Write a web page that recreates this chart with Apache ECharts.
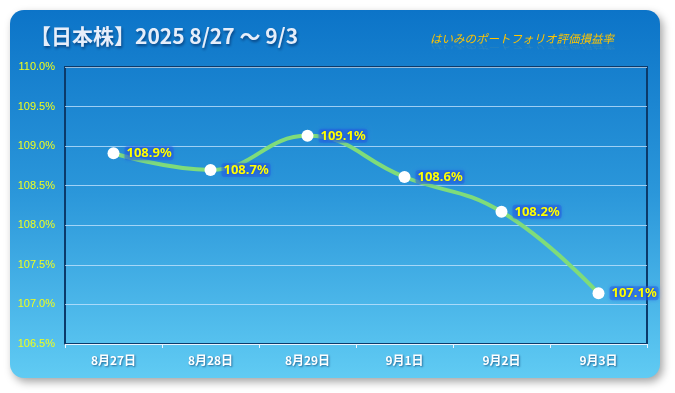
<!DOCTYPE html>
<html><head><meta charset="utf-8">
<script src="https://cdn.jsdelivr.net/npm/echarts@6/dist/echarts.min.js"></script>
<style>html,body{margin:0;padding:0;background:#fff}#c{width:675px;height:393px}</style>
</head><body><div id="c"></div>
<script>
const categories = ['8月27日','8月28日','8月29日','9月1日','9月2日','9月3日'];
const values = [108.9, 108.7, 109.1, 108.6, 108.2, 107.1];
const plotValues = [108.91, 108.70, 109.13, 108.61, 108.17, 107.14];
const titleText = '【日本株】2025 8/27 ～ 9/3';
const subtitleText = 'はいみのポートフォリオ評価損益率';

const chart = echarts.init(document.getElementById('c'));
chart.setOption({
  animation: false,
  graphic: [
    { type: 'rect', z: -10, shape: { x: 10, y: 10, width: 650, height: 368, r: 14 },
      style: { fill: new echarts.graphic.LinearGradient(0,0,0,1,[{offset:0,color:'#0c74c8'},{offset:0.5,color:'#2b97da'},{offset:1,color:'#60cbf3'}]),
        shadowColor: 'rgba(0,0,0,0.35)', shadowBlur: 8, shadowOffsetX: 3, shadowOffsetY: 4 } },
    { type: 'text', left: 30, top: 26, z: 10,
      style: { text: titleText, fill: '#e6eefa', font: 'bold 21px "Noto Sans CJK JP", sans-serif',
        textShadowColor: 'rgba(0,30,80,0.6)', textShadowBlur: 3, textShadowOffsetX: 1, textShadowOffsetY: 2 } },
    { type: 'text', left: 430, top: 33, z: 10,
      style: { text: subtitleText, fill: '#ffc400', font: 'italic 11.5px "Noto Sans CJK JP", sans-serif' } },
    { type: 'text', left: 430, top: 44, z: 9,
      style: { text: subtitleText, fill: 'rgba(255,210,80,0.13)', font: 'italic 11.5px "Noto Sans CJK JP", sans-serif' },
      scaleY: -0.5, originY: 50 }
  ],
  grid: { left: 65, right: 28, top: 67, bottom: 49, show: true, borderColor: '#0b3a6a', borderWidth: 2, backgroundColor: 'transparent' },
  xAxis: {
    type: 'category', data: categories, boundaryGap: true,
    axisLine: { show: true, lineStyle: { color: '#e8f4ff', width: 1 } },
    axisTick: { show: true, lineStyle: { color: '#e8f4ff' }, length: 4 },
    axisLabel: { color: '#ffffff', fontWeight: 'bold', fontSize: 12, margin: 10,
      fontFamily: '"Noto Sans CJK JP", sans-serif',
      textShadowColor: 'rgba(0,40,90,0.6)', textShadowBlur: 2, textShadowOffsetX: 1, textShadowOffsetY: 1 }
  },
  yAxis: {
    type: 'value', min: 106.5, max: 110, interval: 0.5,
    axisLine: { show: false }, axisTick: { show: false },
    axisLabel: { color: '#f2ff1a', fontSize: 11, margin: 10, fontFamily: '"Liberation Sans Narrow", "Liberation Sans", sans-serif',
      formatter: v => v.toFixed(1) + '%' },
    splitLine: { lineStyle: { color: 'rgba(200,230,255,0.75)', width: 1 } }
  },
  series: [{
    type: 'line', data: plotValues, smooth: 0.45,
    lineStyle: { color: '#7fdc7a', width: 4 },
    symbol: 'circle', symbolSize: 12,
    itemStyle: { color: '#ffffff', borderWidth: 0 },
    label: { show: true, position: 'right', distance: 5,
      formatter: p => values[p.dataIndex].toFixed(1) + '%',
      color: '#ffff00', fontWeight: 'bold', fontSize: 13, fontFamily: '"Noto Sans", sans-serif',
      backgroundColor: 'rgba(35,95,225,0.5)', padding: [1, 2, 0, 2], borderRadius: 3,
      shadowColor: 'rgba(35,95,225,0.7)', shadowBlur: 4,
      textShadowColor: '#1a40c8', textShadowBlur: 3 }
  }]
});
</script></body></html>
